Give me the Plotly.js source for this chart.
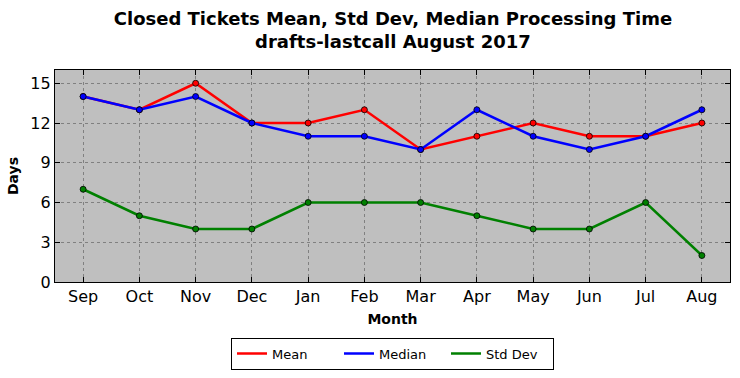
<!DOCTYPE html>
<html>
<head>
<meta charset="utf-8">
<script src="https://cdn.plot.ly/plotly-3.0.1.min.js"></script>
<style>html,body{margin:0;padding:0;background:#fff;}#chart{width:740px;height:378px;}</style>
</head>
<body>
<div id="chart"></div>
<script>
const months = ["Sep","Oct","Nov","Dec","Jan","Feb","Mar","Apr","May","Jun","Jul","Aug"];
const meanVals = [14,13,15,12,12,13,10,11,12,11,11,12];
const medianVals = [14,13,14,12,11,11,10,13,11,10,11,13];
const stdVals = [7,5,4,4,6,6,6,5,4,4,6,2];
const yTicks = [0,3,6,9,12,15];

function series(name, y, color){
  return [
    {x: months, y: y, name: name, type: "scatter", mode: "lines", legendgroup: name,
      line: {color: color, width: 2.5}},
    {x: months, y: y, name: name, type: "scatter", mode: "markers", legendgroup: name, showlegend: false,
      marker: {color: color, size: 6, line: {color: "#000", width: 0.8}}}
  ];
}
const data = [].concat(
  series("Mean", meanVals, "#ff0000"),
  series("Median", medianVals, "#0000ff"),
  series("Std Dev", stdVals, "#008000")
);
const font = "DejaVu Sans, sans-serif";
const layout = {
  width: 740, height: 378,
  margin: {l: 55, r: 10, t: 70, b: 96},
  paper_bgcolor: "#fff", plot_bgcolor: "#bfbfbf",
  font: {family: font, color: "#000"},
  title: {text: "<b>Closed Tickets Mean, Std Dev, Median Processing Time<br>drafts-lastcall August 2017</b>",
    font: {size: 18, family: font}, x: 0.531, xanchor: "center", yref: "container", y: 0.935, yanchor: "middle"},
  xaxis: {range: [-0.5, 11.5], tickvals: months, ticktext: months, automargin: false,
    ticks: "inside", ticklen: 5, tickcolor: "#000", mirror: "allticks",
    showline: true, linecolor: "#000", linewidth: 1.2,
    showgrid: true, gridcolor: "#808080", griddash: "dot", gridwidth: 1,
    tickfont: {size: 16}, zeroline: false,
    title: {text: "<b>Month</b>", font: {size: 14}, standoff: 8}},
  yaxis: {range: [0, 16], tickvals: yTicks, automargin: false,
    ticks: "inside", ticklen: 5, tickcolor: "#000", mirror: "allticks",
    showline: true, linecolor: "#000", linewidth: 1.2,
    showgrid: true, gridcolor: "#808080", griddash: "dot", gridwidth: 1,
    tickfont: {size: 16}, zeroline: false,
    title: {text: "<b>Days</b>", font: {size: 14}, standoff: 8}},
  legend: {orientation: "h", xref: "paper", x: 0.5, xanchor: "center", yref: "container", y: 0.107, yanchor: "top",
    bordercolor: "#000", borderwidth: 1, bgcolor: "#fff",
    font: {size: 13}, entrywidth: 62, entrywidthmode: "pixels", traceorder: "normal"},
  showlegend: true
};
Plotly.newPlot("chart", data, layout, {displayModeBar: false, staticPlot: true});
</script>
</body>
</html>
